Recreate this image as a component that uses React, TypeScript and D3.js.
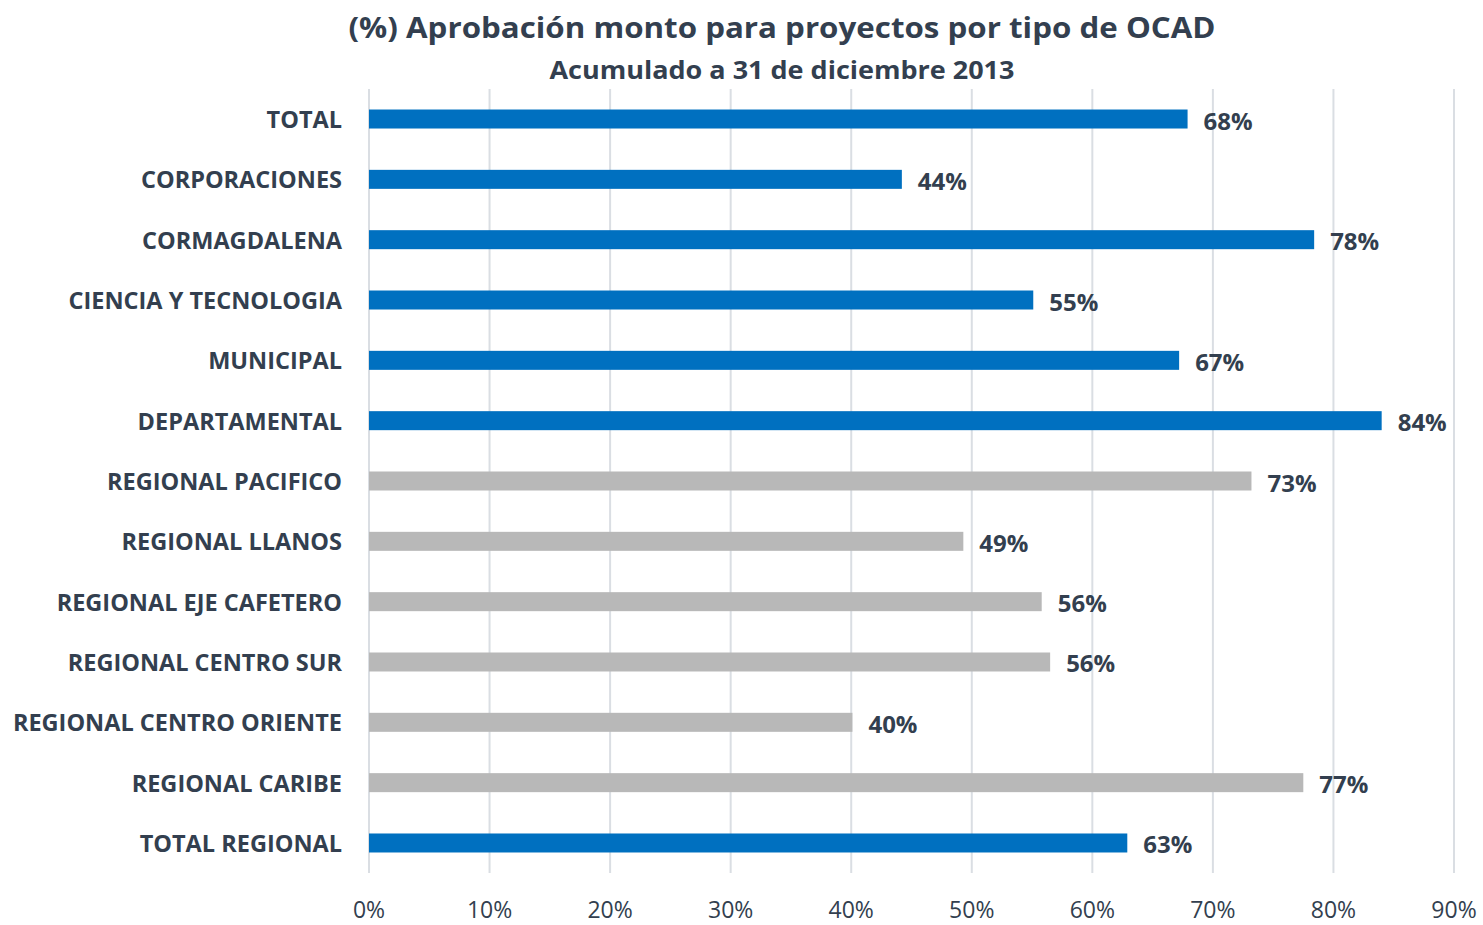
import React from "react";
import * as d3 from "d3";

const categories = [
  "TOTAL",
  "CORPORACIONES",
  "CORMAGDALENA",
  "CIENCIA Y TECNOLOGIA",
  "MUNICIPAL",
  "DEPARTAMENTAL",
  "REGIONAL PACIFICO",
  "REGIONAL LLANOS",
  "REGIONAL EJE CAFETERO",
  "REGIONAL CENTRO SUR",
  "REGIONAL CENTRO ORIENTE",
  "REGIONAL CARIBE",
  "TOTAL REGIONAL",
];
const values = [67.9, 44.2, 78.4, 55.1, 67.2, 84.0, 73.2, 49.3, 55.8, 56.5, 40.1, 77.5, 62.9];
const labels = ["68%", "44%", "78%", "55%", "67%", "84%", "73%", "49%", "56%", "56%", "40%", "77%", "63%"];
const groups = ["main", "main", "main", "main", "main", "main", "reg", "reg", "reg", "reg", "reg", "reg", "main"];
const ticks = [0, 10, 20, 30, 40, 50, 60, 70, 80, 90];
const title = "(%) Aprobación monto para proyectos por tipo de OCAD";
const subtitle = "Acumulado a 31 de diciembre 2013";

const W = 1483;
const H = 925;
const FONT = "'Open Sans', 'DejaVu Sans', sans-serif";
const TEXT = "#333f4f";

export default function App() {
  const x = d3.scaleLinear().domain([0, 90]).range([369, 1454]);
  const y = d3.scaleBand().domain(categories).range([89, 873]).paddingInner(0.685).paddingOuter(0.34);
  const color = (g: string) => (g === "main" ? "#0070c0" : "#b8b8b8");

  return (
    <svg width={W} height={H} style={{ position: "absolute", left: 0, top: 0, background: "#fff" }}>
      <rect width={W} height={H} fill="#fff" />
      <text x={782} y={38} textAnchor="middle" fontFamily={FONT} fontWeight={700} fontSize={29} fill={TEXT}
        textLength={867} lengthAdjust="spacingAndGlyphs">
        {title}
      </text>
      <text x={782} y={79} textAnchor="middle" fontFamily={FONT} fontWeight={700} fontSize={25} fill={TEXT}
        textLength={465} lengthAdjust="spacingAndGlyphs">
        {subtitle}
      </text>
      {ticks.map((t) => (
        <line key={t} x1={x(t)} x2={x(t)} y1={89} y2={873} stroke="#dadee3" strokeWidth={2} />
      ))}
      {categories.map((c, i) => {
        const yy = y(c)!;
        const bw = y.bandwidth();
        return (
          <g key={c}>
            <rect x={x(0)} y={yy} width={x(values[i]) - x(0)} height={bw} fill={color(groups[i])} />
            <text x={x(values[i]) + 16} y={yy + bw / 2 + 1} dominantBaseline="central" fontFamily={FONT}
              fontWeight={700} fontSize={24} fill={TEXT}>
              {labels[i]}
            </text>
            <text x={342} y={yy + bw / 2} dominantBaseline="central" textAnchor="end" fontFamily={FONT}
              fontWeight={700} fontSize={23.5} fill={TEXT}>
              {c}
            </text>
          </g>
        );
      })}
      {ticks.map((t) => (
        <text key={t} x={x(t)} y={918} textAnchor="middle" fontFamily={FONT}
          fontSize={23} fill={TEXT}>
          {t + "%"}
        </text>
      ))}
    </svg>
  );
}
